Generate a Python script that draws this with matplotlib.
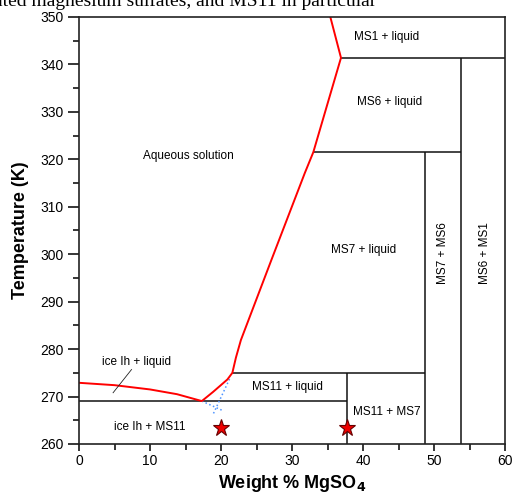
import matplotlib
matplotlib.use('Agg')
import matplotlib.pyplot as plt

# Phase diagram H2O - MgSO4
liq_x = [0, 5, 10, 13.8, 17.3, 18.9, 19.9, 20.9, 21.6, 22.1, 22.8, 27.1, 31.8, 33.0, 36.9, 35.4]
liq_T = [272.9, 272.4, 271.5, 270.5, 269.05, 271.0, 272.3, 273.6, 275.0, 278.2, 281.9, 298.8, 317.1, 321.5, 341.4, 350]

# metastable extensions (blue dotted)
meta1_x = [17.3, 20.3]
meta1_T = [269.05, 267.0]
meta2_x = [21.2, 18.9]
meta2_T = [273.7, 266.3]

# phase boundaries (black)
eut_T = 269.05
per11_T = 275.0
per7_T = 321.5
per6_T = 341.4
ms11_x = 37.8
ms7_x = 48.8
ms6_x = 53.8
bounds = [
    ([0, ms11_x], [eut_T, eut_T]),
    ([21.6, ms7_x], [per11_T, per11_T]),
    ([ms11_x, ms11_x], [260, per11_T]),
    ([ms7_x, ms7_x], [260, per7_T]),
    ([33.0, ms6_x], [per7_T, per7_T]),
    ([ms6_x, ms6_x], [260, per6_T]),
    ([36.9, 60], [per6_T, per6_T]),
]

# samples (stars)
star_x = [20, 37.8]
star_T = [263.3, 263.3]

# region labels: text, x, T, rotation
labels = [
    ('MS1 + liquid', 43.3, 345.8, 0),
    ('MS6 + liquid', 43.7, 332.1, 0),
    ('Aqueous solution', 15.4, 320.8, 0),
    ('MS7 + liquid', 40.1, 300.9, 0),
    ('MS7 + MS6', 51.3, 300.2, 90),
    ('MS6 + MS1', 57.2, 300.2, 90),
    ('MS11 + liquid', 29.4, 272.1, 0),
    ('ice Ih + liquid', 8.1, 277.3, 0),
    ('ice Ih + MS11', 9.9, 263.6, 0),
    ('MS11 + MS7', 43.3, 266.8, 0),
]

plt.rcParams['font.family'] = ['Liberation Sans', 'DejaVu Sans']

fig = plt.figure(figsize=(5.13, 4.95), dpi=100)
ax = fig.add_axes([79 / 513, 1 - 444 / 495, 426 / 513, 427 / 495])

for bx, bT in bounds:
    ax.plot(bx, bT, color='#111111', linewidth=1.1, solid_capstyle='butt')

ax.plot(meta1_x, meta1_T, color='#4d94ff', linestyle=':', linewidth=1.1)
ax.plot(meta2_x, meta2_T, color='#4d94ff', linestyle=':', linewidth=1.1)
ax.plot(liq_x, liq_T, color='#ff0000', linewidth=1.4)

# pointer for "ice Ih + liquid"
ax.plot([4.8, 7.4], [270.8, 275.7], color='#222222', linewidth=0.6)

ax.plot(star_x, star_T, linestyle='none', marker='*', markersize=12.5,
        markerfacecolor='#ee0000', markeredgecolor='#660000', markeredgewidth=0.8, zorder=5)

for txt, x, T, rot in labels:
    ax.text(x, T, txt, ha='center', va='center', rotation=rot, fontsize=8.5)

ax.set_xlim(0, 60)
ax.set_ylim(260, 350)
ax.set_xticks(range(0, 61, 10))
ax.set_xticks(range(5, 60, 10), minor=True)
ax.set_yticks(range(260, 351, 10))
ax.set_yticks(range(265, 350, 10), minor=True)
ax.tick_params(axis='x', which='major', direction='out', length=5, width=1.1, labelsize=10, pad=2)
ax.tick_params(axis='x', which='minor', direction='out', length=4, width=1.1)
ax.tick_params(axis='y', which='major', direction='out', length=8, width=1.1, labelsize=10, pad=3)
ax.tick_params(axis='y', which='minor', direction='out', length=4, width=1.1)
for s in ax.spines.values():
    s.set_linewidth(1.2)
    s.set_color('#222222')

ax.set_xlabel('Weight % MgSO$_\\mathbf{4}$', fontsize=13, fontweight='bold', labelpad=4)
ax.set_ylabel('Temperature (K)', fontsize=13, fontweight='bold', labelpad=8)

# cropped line of the surrounding document text
fig.text(-6 / 513, 1 - 6.5 / 495, 'ated magnesium sulfates, and MS11 in particular',
         fontsize=14, family='Liberation Serif', va='baseline', ha='left')

fig.savefig('out.png', dpi=100)
